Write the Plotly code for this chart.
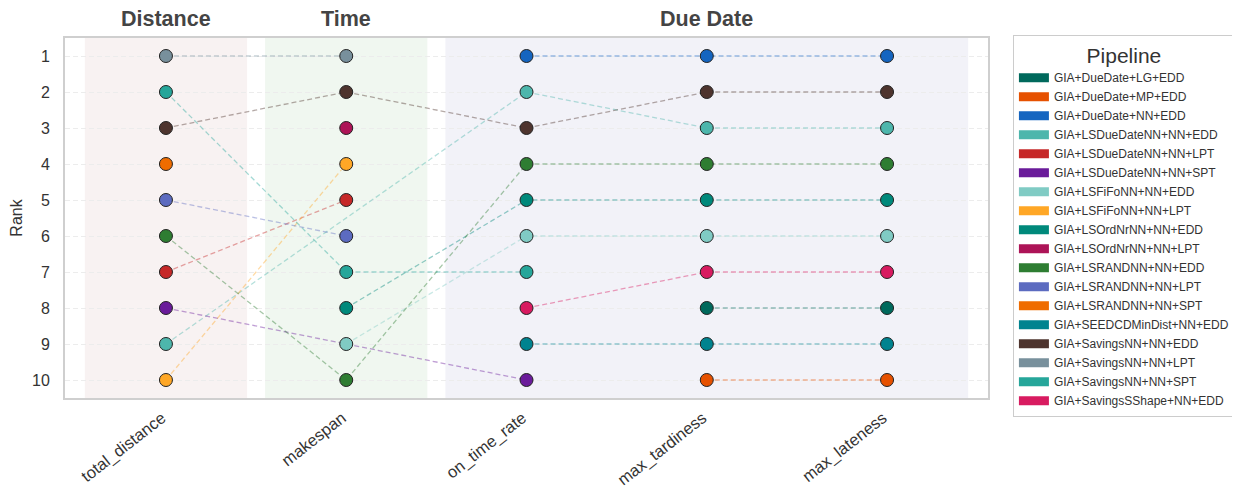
import plotly.graph_objects as go

metrics = ["total_distance", "makespan", "on_time_rate", "max_tardiness", "max_lateness"]

groups = ["Distance", "Time", "Due Date"]
group_start = [0, 1, 2]
group_end = [0, 1, 4]
group_fill = ["#f8f2f2", "#f0f7f0", "#f2f2f8"]

pipelines = [
    "GIA+DueDate+LG+EDD",
    "GIA+DueDate+MP+EDD",
    "GIA+DueDate+NN+EDD",
    "GIA+LSDueDateNN+NN+EDD",
    "GIA+LSDueDateNN+NN+LPT",
    "GIA+LSDueDateNN+NN+SPT",
    "GIA+LSFiFoNN+NN+EDD",
    "GIA+LSFiFoNN+NN+LPT",
    "GIA+LSOrdNrNN+NN+EDD",
    "GIA+LSOrdNrNN+NN+LPT",
    "GIA+LSRANDNN+NN+EDD",
    "GIA+LSRANDNN+NN+LPT",
    "GIA+LSRANDNN+NN+SPT",
    "GIA+SEEDCDMinDist+NN+EDD",
    "GIA+SavingsNN+NN+EDD",
    "GIA+SavingsNN+NN+LPT",
    "GIA+SavingsNN+NN+SPT",
    "GIA+SavingsSShape+NN+EDD",
]

colors = [
    "#00695C", "#E65100", "#1565C0", "#4DB6AC", "#C62828", "#6A1B9A",
    "#80CBC4", "#FFA726", "#00897B", "#AD1457", "#2E7D32", "#5C6BC0",
    "#EF6C00", "#00838F", "#4E342E", "#78909C", "#26A69A", "#D81B60",
]

# top-10 ranking (rank 1 first) per metric
rank_total_distance = [
    "GIA+SavingsNN+NN+LPT", "GIA+SavingsNN+NN+SPT", "GIA+SavingsNN+NN+EDD",
    "GIA+LSRANDNN+NN+SPT", "GIA+LSRANDNN+NN+LPT", "GIA+LSRANDNN+NN+EDD",
    "GIA+LSDueDateNN+NN+LPT", "GIA+LSDueDateNN+NN+SPT", "GIA+LSDueDateNN+NN+EDD",
    "GIA+LSFiFoNN+NN+LPT",
]
rank_makespan = [
    "GIA+SavingsNN+NN+LPT", "GIA+SavingsNN+NN+EDD", "GIA+LSOrdNrNN+NN+LPT",
    "GIA+LSFiFoNN+NN+LPT", "GIA+LSDueDateNN+NN+LPT", "GIA+LSRANDNN+NN+LPT",
    "GIA+SavingsNN+NN+SPT", "GIA+LSOrdNrNN+NN+EDD", "GIA+LSFiFoNN+NN+EDD",
    "GIA+LSRANDNN+NN+EDD",
]
rank_on_time_rate = [
    "GIA+DueDate+NN+EDD", "GIA+LSDueDateNN+NN+EDD", "GIA+SavingsNN+NN+EDD",
    "GIA+LSRANDNN+NN+EDD", "GIA+LSOrdNrNN+NN+EDD", "GIA+LSFiFoNN+NN+EDD",
    "GIA+SavingsNN+NN+SPT", "GIA+SavingsSShape+NN+EDD", "GIA+SEEDCDMinDist+NN+EDD",
    "GIA+LSDueDateNN+NN+SPT",
]
rank_max_tardiness = [
    "GIA+DueDate+NN+EDD", "GIA+SavingsNN+NN+EDD", "GIA+LSDueDateNN+NN+EDD",
    "GIA+LSRANDNN+NN+EDD", "GIA+LSOrdNrNN+NN+EDD", "GIA+LSFiFoNN+NN+EDD",
    "GIA+SavingsSShape+NN+EDD", "GIA+DueDate+LG+EDD", "GIA+SEEDCDMinDist+NN+EDD",
    "GIA+DueDate+MP+EDD",
]
rank_max_lateness = [
    "GIA+DueDate+NN+EDD", "GIA+SavingsNN+NN+EDD", "GIA+LSDueDateNN+NN+EDD",
    "GIA+LSRANDNN+NN+EDD", "GIA+LSOrdNrNN+NN+EDD", "GIA+LSFiFoNN+NN+EDD",
    "GIA+SavingsSShape+NN+EDD", "GIA+DueDate+LG+EDD", "GIA+SEEDCDMinDist+NN+EDD",
    "GIA+DueDate+MP+EDD",
]
rankings = [rank_total_distance, rank_makespan, rank_on_time_rate,
            rank_max_tardiness, rank_max_lateness]

FONT = "Liberation Sans, Arial, sans-serif"


def rgba(hexc, a):
    h = hexc.lstrip("#")
    r, g, b = int(h[0:2], 16), int(h[2:4], 16), int(h[4:6], 16)
    return f"rgba({r},{g},{b},{a})"


fig = go.Figure()

# connecting dashed lines
pts = {}
for p in pipelines:
    xs, ys = [], []
    for mi, m in enumerate(metrics):
        if p in rankings[mi]:
            xs.append(m)
            ys.append(rankings[mi].index(p) + 1)
    pts[p] = (xs, ys)

for p, c in zip(pipelines, colors):
    xs, ys = pts[p]
    if len(xs) > 1:
        fig.add_trace(go.Scatter(
            x=xs, y=ys, mode="lines",
            line=dict(color=rgba(c, 0.42), width=1.3, dash="5px,3px"),
            showlegend=False, hoverinfo="skip"))

# markers
for p, c in zip(pipelines, colors):
    xs, ys = pts[p]
    fig.add_trace(go.Scatter(
        x=xs, y=ys, mode="markers",
        marker=dict(color=c, size=13, line=dict(color="#222222", width=1)),
        showlegend=False, name=p))

# legend entries (rectangular swatches)
for p, c in zip(pipelines, colors):
    fig.add_trace(go.Scatter(
        x=[None], y=[None], mode="lines", name=p,
        line=dict(color=c, width=9), showlegend=True))

# group bands and headers
for g, s, e, fc in zip(groups, group_start, group_end, group_fill):
    fig.add_shape(type="rect", xref="x", yref="paper",
                  x0=s - 0.45, x1=e + 0.45, y0=0, y1=1,
                  fillcolor=fc, line=dict(width=0), layer="below")
    fig.add_annotation(x=(s + e) / 2, xref="x", y=1.053, yref="paper",
                       text=f"<b>{g}</b>", showarrow=False,
                       font=dict(family=FONT, size=21.5, color="#444444"),
                       yanchor="middle")

fig.update_layout(
    width=1240, height=490,
    margin=dict(l=57, r=260, t=30, b=100, autoexpand=False),
    paper_bgcolor="white", plot_bgcolor="white",
    font=dict(family=FONT, color="#333333"),
    legend=dict(
        xref="paper", x=1.027, xanchor="left",
        yref="container", y=0.945, yanchor="top",
        maxheight=470,
        bgcolor="white", bordercolor="#cccccc", borderwidth=1,
        font=dict(family=FONT, size=12, color="#333333"),
        title=dict(text="Pipeline", side="top center",
                   font=dict(family=FONT, size=21, color="#333333")),
        tracegroupgap=0,
    ),
)

fig.update_xaxes(
    type="category", categoryorder="array", categoryarray=metrics,
    range=[-0.56, 4.56], showgrid=False, zeroline=False, automargin=False,
    showline=True, mirror=True, linecolor="#cfcfcf", linewidth=2,
    tickangle=-38, ticks="", ticklabelstandoff=2, ticklabelshift=-4,
    tickfont=dict(family=FONT, size=16.5, color="#333333"),
)
fig.update_yaxes(
    range=[10.5, 0.5], tickmode="array", tickvals=list(range(1, 11)),
    ticktext=[str(i) for i in range(1, 11)], automargin=False,
    showgrid=True, gridcolor="#ececec", gridwidth=1, griddash="5px,3px",
    zeroline=False, showline=True, mirror=True, linecolor="#cfcfcf", linewidth=2,
    ticks="", ticklabelstandoff=10,
    tickfont=dict(family=FONT, size=16, color="#333333"),
    title=dict(text="Rank", font=dict(family=FONT, size=16, color="#333333"), standoff=14),
)

fig.write_html("out.html")
